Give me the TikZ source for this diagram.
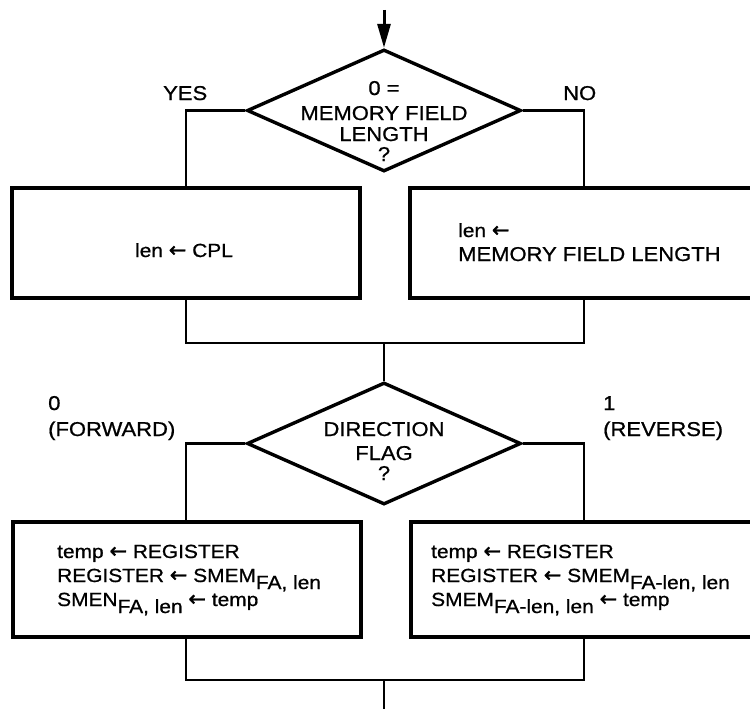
\documentclass[tikz,border=0pt]{standalone}
\usepackage{fontspec}
\setmainfont[FakeStretch=1.1, FakeBold=0.8]{Liberation Sans}
\newfontfamily\arrfont{DejaVu Sans}[FakeBold=1.4]
\usetikzlibrary{shapes.geometric,arrows.meta}
\newcommand{\lsub}[1]{\raisebox{-7pt}{#1}}
\newcommand{\la}{{\arrfont\fontsize{21}{21}\selectfont ←}}
\begin{document}
\begin{tikzpicture}[x=1pt,y=-1pt,
  txt/.style={inner sep=0pt, font=\fontsize{20}{24}\selectfont},
  btxt/.style={inner sep=0pt, font=\fontsize{19}{24}\selectfont},
  boxnode/.style={draw, line width=3.2pt, inner sep=0pt},
  dia/.style={draw, diamond, line width=3.4pt, inner sep=0pt, minimum width=274pt, minimum height=122pt},
  conn/.style={line width=2.4pt}]
\useasboundingbox[fill=white] (0,0) rectangle (750,709);
\clip (0,0) rectangle (750,709);
% helper coordinates
\coordinate (colL) at (186,0);
\coordinate (colR) at (584,0);
\coordinate (start) at (384,10);
\coordinate (j1) at (384,343);
\coordinate (j2) at (384,680);
\coordinate (end) at (384,709);
% decisions
\node[dia] (d1) at (384,110.5) {};
\node[dia] (d2) at (384,443.5) {};
% boxes
\node[boxnode, minimum width=348pt, minimum height=110pt] (b1) at (186,243) {};
\node[boxnode, minimum width=370pt, minimum height=110pt] (b2) at (595,243) {};
\node[boxnode, minimum width=348pt, minimum height=115pt] (b3) at (187,579.5) {};
\node[boxnode, minimum width=370pt, minimum height=115pt] (b4) at (596,579.5) {};
% connectors
\draw[line width=3pt, -{Triangle[length=24pt,width=13pt]}] (start) -- (d1.north);
\draw[conn] (d1.west) -| (b1.north -| colL);
\draw[conn] (d1.east) -| (b2.north -| colR);
\draw[conn] (b1.south -| colL) |- (j1) -| (b2.south -| colR);
\draw[conn] (j1) -- (d2.north);
\draw[conn] (d2.west) -| (b3.north -| colL);
\draw[conn] (d2.east) -| (b4.north -| colR);
\draw[conn] (b3.south -| colL) |- (j2) -| (b4.south -| colR);
\draw[conn] (j2) -- (end);
% decision 1 text
\node[txt, anchor=base] (t1a) at (384,95) {0 =};
\node[txt, anchor=base] (t1b) at (384,120) {MEMORY FIELD};
\node[txt, anchor=base] (t1c) at (384,141) {LENGTH};
\node[txt, anchor=base] (t1d) at (384,161) {?};
\node[txt, anchor=base west] (yes) at (163,100) {YES};
\node[txt, anchor=base west] (no) at (563,100) {NO};
% box texts
\node[btxt, anchor=base] (t2) at (184,257) {len \la{} CPL};
\node[btxt, anchor=base west] (t3a) at (458,237) {len \la};
\node[txt, anchor=base west] (t3b) at (458,261) {MEMORY FIELD LENGTH};
% decision 2 text
\node[txt, anchor=base] (t4a) at (384,436) {DIRECTION};
\node[txt, anchor=base] (t4b) at (384,460) {FLAG};
\node[txt, anchor=base] (t4c) at (384,480) {?};
\node[txt, anchor=base west] (fw0) at (48,410) {0};
\node[txt, anchor=base west] (fw1) at (48,436) {(FORWARD)};
\node[txt, anchor=base west] (rv0) at (603,410) {1};
\node[txt, anchor=base west] (rv1) at (603,436) {(REVERSE)};
% lower boxes text
\node[btxt, anchor=base west] (t5a) at (57,558) {temp \la{} REGISTER};
\node[btxt, anchor=base west] (t5b) at (57,582) {REGISTER \la{} SMEM\lsub{FA, len}};
\node[btxt, anchor=base west] (t5c) at (57,606) {SMEN\lsub{FA, len} \la{} temp};
\node[btxt, anchor=base west] (t6a) at (431,558) {temp \la{} REGISTER};
\node[btxt, anchor=base west] (t6b) at (431,582) {REGISTER \la{} SMEM\lsub{FA-len, len}};
\node[btxt, anchor=base west] (t6c) at (431,606) {SMEM\lsub{FA-len, len} \la{} temp};
\end{tikzpicture}
\end{document}
